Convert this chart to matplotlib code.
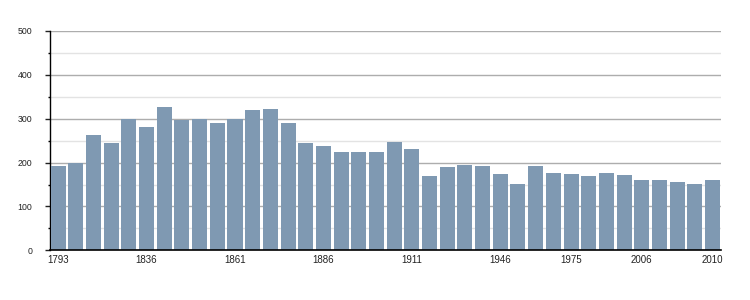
import matplotlib
matplotlib.use("Agg")
import matplotlib.pyplot as plt
from matplotlib.ticker import MultipleLocator

years = [1793, 1800, 1806, 1821, 1831, 1836, 1841, 1846, 1851, 1856,
         1861, 1866, 1872, 1876, 1881, 1886, 1891, 1896, 1901, 1906,
         1911, 1921, 1926, 1931, 1936, 1946, 1954, 1962, 1968, 1975,
         1982, 1990, 1999, 2006, 2007, 2008, 2009, 2010]
population = [192, 199, 262, 244, 300, 282, 326, 296, 300, 291,
              300, 321, 323, 291, 244, 237, 223, 223, 225, 246,
              232, 169, 189, 194, 192, 173, 151, 192, 176, 173,
              169, 176, 171, 160, 160, 155, 151, 160]
label_years = [1793, 1836, 1861, 1886, 1911, 1946, 1975, 2006, 2010]

plt.rcParams['font.family'] = ['Liberation Sans', 'DejaVu Sans']

fig = plt.figure(figsize=(7.5, 3), dpi=100)
ax = fig.add_axes([50/750, 1-250.3/300, 671/750, (250.3-31)/300])

x = list(range(len(years)))
ax.bar(x, population, width=0.85, color='#7f99b2', zorder=3)

ax.set_ylim(0, 500)
ax.set_xlim(-0.46, len(years) - 0.52)
ax.yaxis.set_major_locator(MultipleLocator(100))
ax.yaxis.set_minor_locator(MultipleLocator(50))
ax.grid(axis='y', which='major', color='#adadad', linewidth=1, zorder=0)
ax.grid(axis='y', which='minor', color='#e3e3e3', linewidth=1, zorder=0)

ticks = [years.index(y) for y in label_years]
ax.set_xticks(ticks)
ax.set_xticklabels([str(y) for y in label_years])
ax.tick_params(axis='x', length=0, pad=3.5, labelsize=7, colors='#222222')
ax.tick_params(axis='y', which='major', length=3.6, width=1, direction='out',
               labelsize=6.3, colors='#222222', pad=9)
ax.tick_params(axis='y', which='minor', length=1.6, width=1, direction='out')

for s in ['top', 'right']:
    ax.spines[s].set_visible(False)
ax.spines['left'].set_color('black')
ax.spines['bottom'].set_color('black')
ax.spines['left'].set_linewidth(1)
ax.spines['bottom'].set_linewidth(1.2)
ax.spines['bottom'].set_zorder(4)

fig.savefig('out.png', dpi=100, facecolor='white')
